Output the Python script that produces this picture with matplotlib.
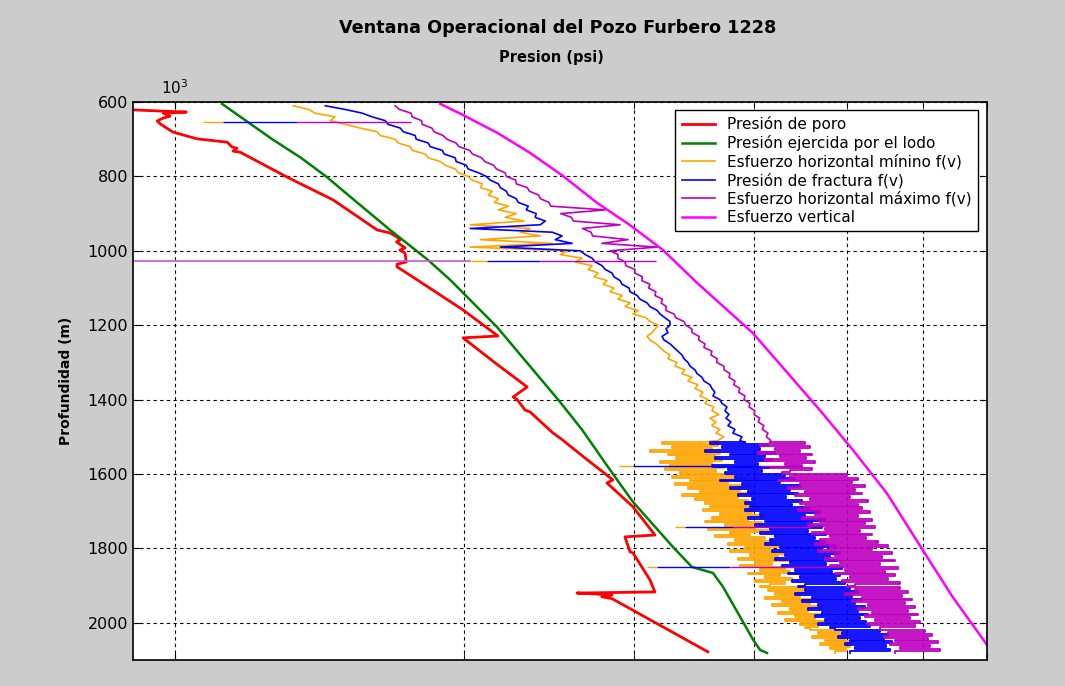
import numpy as np
import matplotlib
matplotlib.use("Agg")
import matplotlib.pyplot as plt
from matplotlib.ticker import LogLocator, NullFormatter

# ---- data (psi vs depth in m) ----
# Presion de poro
poro_depth = [620, 627, 630, 638, 643, 651, 659, 681, 699, 705,
              708, 721, 724, 732, 735, 802, 863, 944, 952, 963,
              971, 976, 992, 998, 1006, 1030, 1036, 1043, 1078, 1159,
              1229, 1234, 1300, 1366, 1393, 1400, 1428, 1433, 1490, 1503,
              1560, 1616, 1624, 1688, 1764, 1769, 1809, 1812, 1885, 1917,
              1920, 1925, 1930, 1935, 2078]
poro_psi = [880, 1027, 972, 988, 972, 958, 965, 995, 1054, 1106,
            1133, 1146, 1160, 1149, 1169, 1308, 1460, 1623, 1674, 1702,
            1714, 1700, 1735, 1714, 1735, 1740, 1702, 1702, 1786, 1994,
            2168, 1994, 2150, 2325, 2248, 2270, 2313, 2341, 2474, 2515,
            2680, 2856, 2815, 2996, 3158, 2939, 2975, 2996, 3121, 3158,
            2620, 2849, 2780, 2849, 3585]

# Presion ejercida por el lodo
lodo_depth = [605, 700, 750, 802, 863, 944, 1025, 1078, 1113, 1205, 1406, 1481,
              1589, 1675, 1796, 1850, 1866, 1903, 2046, 2073, 2081]
lodo_psi = [1119, 1262, 1352, 1439, 1535, 1674, 1834, 1933, 1994, 2163, 2515, 2652,
            2836, 2996, 3297, 3451, 3629, 3717, 3997, 4063, 4131]

# Esfuerzo vertical
vert_depth = [605, 635, 683, 737, 799, 871, 931, 998, 1086, 1221,
              1326, 1428, 1535, 1651, 1791, 1930, 2059]
vert_psi = [1888, 1994, 2165, 2342, 2534, 2749, 2975, 3220, 3493, 3993,
            4332, 4688, 5074, 5503, 5955, 6444, 6998]

# log samples: every 10 m down to 1510, every 5 m below
depth_upper = np.arange(610, 1520, 10)
depth_lower = np.arange(1515, 2085, 5)

shmin_upper = [1327, 1378, 1398, 1467, 1450, 1503, 1558, 1623, 1635, 1694,
               1706, 1757, 1765, 1821, 1834, 1888, 1910, 1957, 1971, 2018,
               2038, 2088, 2078, 2138, 2118, 2170, 2149, 2222, 2170, 2265,
               2206, 2308, 2028, 2342, 2286, 2399, 2078, 2469, 2028, 2565,
               2516, 2653, 2608, 2717, 2691, 2756, 2730, 2816, 2789, 2863,
               2836, 2919, 2891, 2975, 2940, 3033, 2997, 3091, 3121, 3182,
               3159, 3136, 3099, 3121, 3167, 3197, 3228, 3274, 3258, 3329,
               3313, 3394, 3369, 3451, 3418, 3501, 3476, 3543, 3518, 3586,
               3560, 3637, 3620, 3681, 3603, 3655, 3620, 3690, 3655, 3726,
               3672]
shmin_lower = [3518, 3212, 3672, 3290, 3620, 3121, 3690, 3258, 3646, 3321,
               3708, 3197, 3620, 3274, 3726, 3235, 3655,
               3353, 3825, 3290, 3918, 3435, 3762, 3313, 3965, 3418, 3871,
               3518, 3984, 3369, 3852, 3476, 3946, 3560, 4013,
               3603, 4061, 3543, 3984, 3690, 4110, 3620, 3946, 3560, 4081,
               3735, 4013, 3586, 4139, 3780, 3965, 3646, 4110,
               3825, 4209, 3762, 4280, 3918, 4159, 3780, 4311, 3965, 4240,
               3852, 4342, 4013, 4179, 3871, 4311, 4061, 4363, 3946, 4260,
               4110, 4384, 4013, 4311, 4159,
               4061, 4523, 4139, 4632, 4209, 4469, 4110, 4666, 4280, 4577,
               4179, 4710, 4363, 4555, 4240, 4744, 4416, 4632, 4311, 4755,
               4469, 4666, 4523,
               4577, 4918, 4666, 5001, 4599, 4977, 4744, 5061, 4688, 5037,
               4801, 4989, 4859]

frac_upper = [1433, 1503, 1566, 1604, 1654, 1666, 1715, 1728, 1778, 1782,
              1834, 1843, 1897, 1906, 1957, 1961, 2009, 2018, 2068, 2108,
              2128, 2170, 2180, 2212, 2222, 2265, 2276, 2331, 2320, 2376,
              2370, 2428, 2399, 2028, 2469, 2528, 2487, 2590, 2180, 2640,
              2672, 2717, 2736, 2782, 2803, 2850, 2863, 2905, 2919, 2968,
              2975, 3026, 3047, 3099, 3121, 3174, 3197, 3235, 3274, 3274,
              3243, 3258, 3212, 3228, 3274, 3305, 3337, 3369, 3386, 3418,
              3435, 3476, 3493, 3535, 3552, 3603, 3620, 3646, 3629, 3690,
              3708, 3753, 3735, 3771, 3744, 3789, 3762, 3825, 3807, 3890,
              3871]
frac_lower = [3918, 3603, 4139, 3708, 4061, 3560, 4209, 3780, 4110, 3646,
              4179, 3825, 4042, 3620, 4159, 3762, 4081,
              3735, 4311, 3825, 4416, 3690, 4260, 3890, 4469, 3780, 4363,
              3946, 4448, 3852, 4321, 3984, 4490, 3918, 4384,
              3965, 4577, 3918, 4688, 4061, 4523, 3946, 4744, 4110, 4599,
              4013, 4710, 4159, 4555, 4061, 4755, 4209, 4632,
              4159, 4744, 4110, 4859, 4260, 4688, 4179, 4918, 4311, 4801,
              4209, 4894, 4363, 4755, 4280, 4941, 4416, 4824, 4342, 4918,
              4469, 4871, 4384, 4977, 4523,
              4448, 5037, 4523, 5135, 4416, 5061, 4599, 5184, 4490, 5098,
              4666, 5221, 4555, 5135, 4710, 5259, 4632, 5159, 4744, 5234,
              4666, 5284, 4801,
              4859, 5412, 4941, 5516, 4894, 5464, 5037, 5570, 4977, 5490,
              5098, 5543, 5037]

shmax_upper = [1694, 1712, 1760, 1765, 1805, 1808, 1850, 1860, 1900, 1918,
               1960, 1975, 2025, 2040, 2085, 2100, 2145, 2160, 2205, 2212,
               2262, 2265, 2325, 2338, 2390, 2400, 2450, 2460, 2803, 2520,
               2585, 2598, 2905, 2655, 2710, 2720, 2961, 2780, 3174, 2835,
               2890, 2890, 2940, 2945, 3010, 3010, 3065, 3060, 3120, 3110,
               3165, 3158, 3215, 3205, 3245, 3240, 3305, 3320, 3385, 3400,
               3450, 3452, 3510, 3508, 3560, 3552, 3620, 3612, 3665, 3662,
               3725, 3728, 3780, 3772, 3825, 3815, 3870, 3860, 3918, 3910,
               3965, 3958, 4012, 4005, 4060, 4045, 4100, 4085, 4140, 4125,
               4170]
shmax_lower = [4159, 4523, 4061, 4577, 4209, 4469, 4042, 4599, 4260, 4534,
               4110, 4632, 4311, 4490, 4159, 4599, 4363,
               4280, 5001, 4363, 5135, 4240, 5061, 4469, 5221, 4342, 5098,
               4523, 5184, 4416, 5037, 4577, 5259, 4469, 5135,
               4523, 5184, 4448, 5284, 4632, 5135, 4490, 5310, 4688, 5221,
               4555, 5348, 4744, 5159, 4599, 5310, 4801, 5234,
               4688, 5387, 4632, 5516, 4801, 5310, 4666, 5570, 4859, 5438,
               4744, 5610, 4918, 5412, 4801, 5650, 4977, 5477, 4859, 5610,
               5037, 5516, 4941, 5677, 5098,
               5001, 5677, 5098, 5787, 4977, 5705, 5184, 5843, 5061, 5746,
               5259, 5885, 5135, 5787, 5310, 5927, 5221, 5815, 5348, 5955,
               5259, 5885, 5412,
               5412, 6027, 5516, 6129, 5464, 6070, 5610, 6217, 5543, 6100,
               5677, 6247, 5610]

# isolated outlier readings (horizontal streaks): where each colour starts
spike_depth = [654, 1027, 1578, 1742, 1850]
spike_shmin_from = [1069, 2031, 2898, 3313, 3099]
spike_frac_from = [1122, 2111, 2996, 3394, 3174]
spike_shmax_from = [1340, 2399, 4061, 3806, 3779]
spike_to = [1760, 3166, 4490, 4577, 4801]
spike_1027_left = 880

c_orange = '#ffa500'
c_blue = '#0000ff'
c_purple = '#bf00bf'
c_magenta = '#ff00ff'

fig = plt.figure(figsize=(10.65, 6.86), dpi=100, facecolor='#cccccc')
ax = fig.add_axes([0.1249, 0.0379, 0.8019, 0.8134])
ax.set_facecolor('white')

ax.plot(poro_psi, poro_depth, color='red', lw=2, label='Presión de poro')
ax.plot(lodo_psi, lodo_depth, color='#008000', lw=1.8, label='Presión ejercida por el lodo')

logs = [(shmin_upper, shmin_lower, c_orange, 'Esfuerzo horizontal mínino f(v)'),
        (frac_upper, frac_lower, c_blue, 'Presión de fractura f(v)'),
        (shmax_upper, shmax_lower, c_purple, 'Esfuerzo horizontal máximo f(v)')]
for up, low, col, lab in logs:
    ax.plot(list(up) + [low[0]], list(depth_upper) + [depth_lower[0]],
            color=col, lw=1.2, label=lab)
    ax.plot(low, depth_lower, color=col, lw=1.3, drawstyle='steps-post')

ax.plot(vert_psi, vert_depth, color=c_magenta, lw=1.8, label='Esfuerzo vertical')

ax.hlines(spike_depth[1], spike_1027_left, spike_shmin_from[1], color='#cc55cc', lw=1.2)
ax.hlines(spike_depth, spike_shmin_from, spike_frac_from, color=c_orange, lw=1)
ax.hlines(spike_depth, spike_frac_from, spike_shmax_from, color=c_blue, lw=1)
ax.hlines(spike_depth, spike_shmax_from, spike_to, color=c_purple, lw=1)

ax.set_xscale('log')
ax.set_xlim(904, 7000)
ax.set_ylim(2100, 600)
ax.set_yticks([600, 800, 1000, 1200, 1400, 1600, 1800, 2000])
ax.xaxis.set_major_locator(LogLocator(base=10))
ax.xaxis.set_minor_locator(LogLocator(base=10, subs=np.arange(2, 10)))
ax.xaxis.set_minor_formatter(NullFormatter())

ax.tick_params(axis='x', which='both', top=True, bottom=True, labeltop=True,
               labelbottom=False, direction='in', length=5, labelsize=11)
ax.tick_params(axis='y', which='both', left=True, right=True, direction='in',
               length=5, labelsize=11.5)
ax.grid(True, which='both', color='black', linestyle=(0, (3, 3)), linewidth=0.8)
for sp in ax.spines.values():
    sp.set_linewidth(1.2)

ax.set_xlabel('Presion (psi)', fontsize=10.5, fontweight='bold')
ax.xaxis.set_label_position('top')
ax.xaxis.set_label_coords(0.49, 1.079)
ax.xaxis.label.set_va('center')
ax.set_ylabel('Profundidad (m)', fontsize=10, fontweight='bold')
ax.yaxis.set_label_coords(-0.0785, 0.5)
ax.yaxis.label.set_va('center')

fig.text(0.524, 1 - 28 / 686, 'Ventana Operacional del Pozo Furbero 1228',
         ha='center', va='center', fontsize=12.7, fontweight='bold')

leg = ax.legend(loc='upper right', bbox_to_anchor=(0.9895, 0.9857), fontsize=11,
                frameon=True, fancybox=False, framealpha=1, edgecolor='black',
                handlelength=2.2, handletextpad=0.8, labelspacing=0.2,
                borderpad=0.4, borderaxespad=0)
leg.get_frame().set_linewidth(1)

fig.savefig('out.png', dpi=100, facecolor=fig.get_facecolor())
